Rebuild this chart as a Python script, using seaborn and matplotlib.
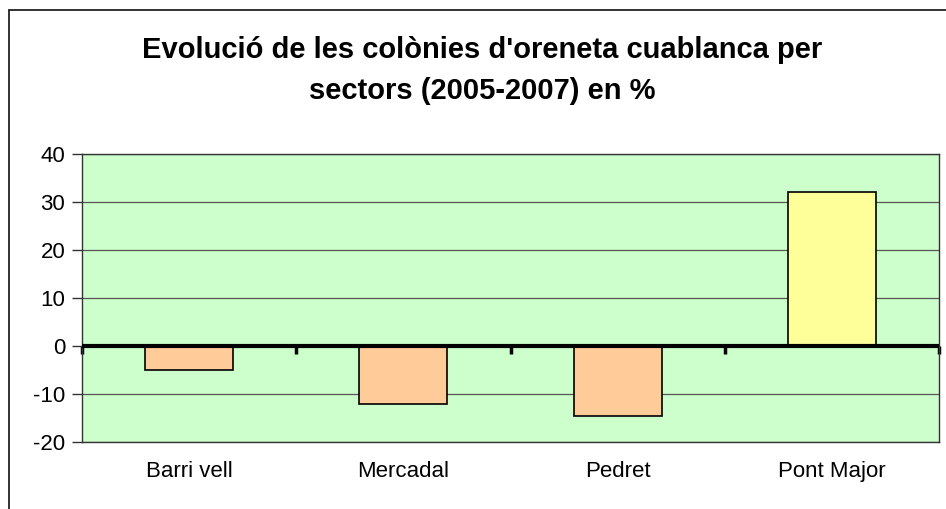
import pandas as pd
import numpy as np
import matplotlib
matplotlib.use("Agg")
import matplotlib.pyplot as plt
import seaborn as sns
from matplotlib.lines import Line2D

sectors = ["Barri vell", "Mercadal", "Pedret", "Pont Major"]
change_pct = [-5, -12, -14.6, 32]
bar_colors = ["#FFCC99", "#FFCC99", "#FFCC99", "#FFFF99"]
y_ticks = [-20, -10, 0, 10, 20, 30, 40]

sns.set_style("white")
plt.rcParams["font.family"] = ["Liberation Sans", "DejaVu Sans"]
plt.rcParams["axes.unicode_minus"] = False
plt.rcParams["text.color"] = "black"
plt.rcParams["xtick.color"] = "black"
plt.rcParams["ytick.color"] = "black"

df = pd.DataFrame({"sector": sectors, "change": change_pct})

fig = plt.figure(figsize=(9.46, 5.09), dpi=100)
ax = fig.add_axes([82 / 946, 1 - 442 / 509, (939 - 82) / 946, (442 - 154) / 509])
ax.set_facecolor("#CCFFCC")

sns.barplot(data=df, x="sector", y="change", hue="sector", palette=bar_colors,
            saturation=1, legend=False, width=0.41, edgecolor="black",
            linewidth=1.2, ax=ax, zorder=3)

ax.set_ylim(-20, 40)
ax.set_xlim(-0.5, len(sectors) - 0.5)
ax.set_yticks(y_ticks)
ax.yaxis.grid(True, color="#555555", linewidth=0.9)
ax.set_axisbelow(True)
ax.axhline(0, color="black", linewidth=3, zorder=4)

for s in ax.spines.values():
    s.set_visible(True)
    s.set_color("#333333")
    s.set_linewidth(1)

ax.tick_params(axis="y", length=7, width=1, color="#333333", labelsize=16, pad=5,
               left=True, labelcolor="black")
ax.tick_params(axis="x", length=0, labelsize=16, pad=14, labelcolor="black")
ax.set_xlabel("")
ax.set_ylabel("")

# category boundary ticks on the zero axis
sec = ax.secondary_xaxis(20 / 60)
sec.set_xticks(np.arange(len(sectors) + 1) - 0.5)
sec.tick_params(direction="out", length=6, width=2.5, color="black", labelbottom=False,
                labeltop=False, bottom=True, top=False)
sec.spines["bottom"].set_visible(False)
sec.spines["top"].set_visible(False)

title_x = 482 / 946
fig.text(title_x, 1 - 50 / 509, "Evolució de les colònies d'oreneta cuablanca per",
         ha="center", va="center", fontsize=21, fontweight="bold", color="black")
fig.text(title_x, 1 - 91 / 509, "sectors (2005-2007) en %",
         ha="center", va="center", fontsize=21, fontweight="bold", color="black")

# outer chart border (left and top visible)
fig.add_artist(Line2D([8.5 / 946, 8.5 / 946], [0, 1 - 9.5 / 509], transform=fig.transFigure,
                      color="#222222", linewidth=1.3))
fig.add_artist(Line2D([8.5 / 946, 1], [1 - 9.5 / 509, 1 - 9.5 / 509], transform=fig.transFigure,
                      color="#222222", linewidth=1.3))

fig.savefig("out.png", dpi=100)
